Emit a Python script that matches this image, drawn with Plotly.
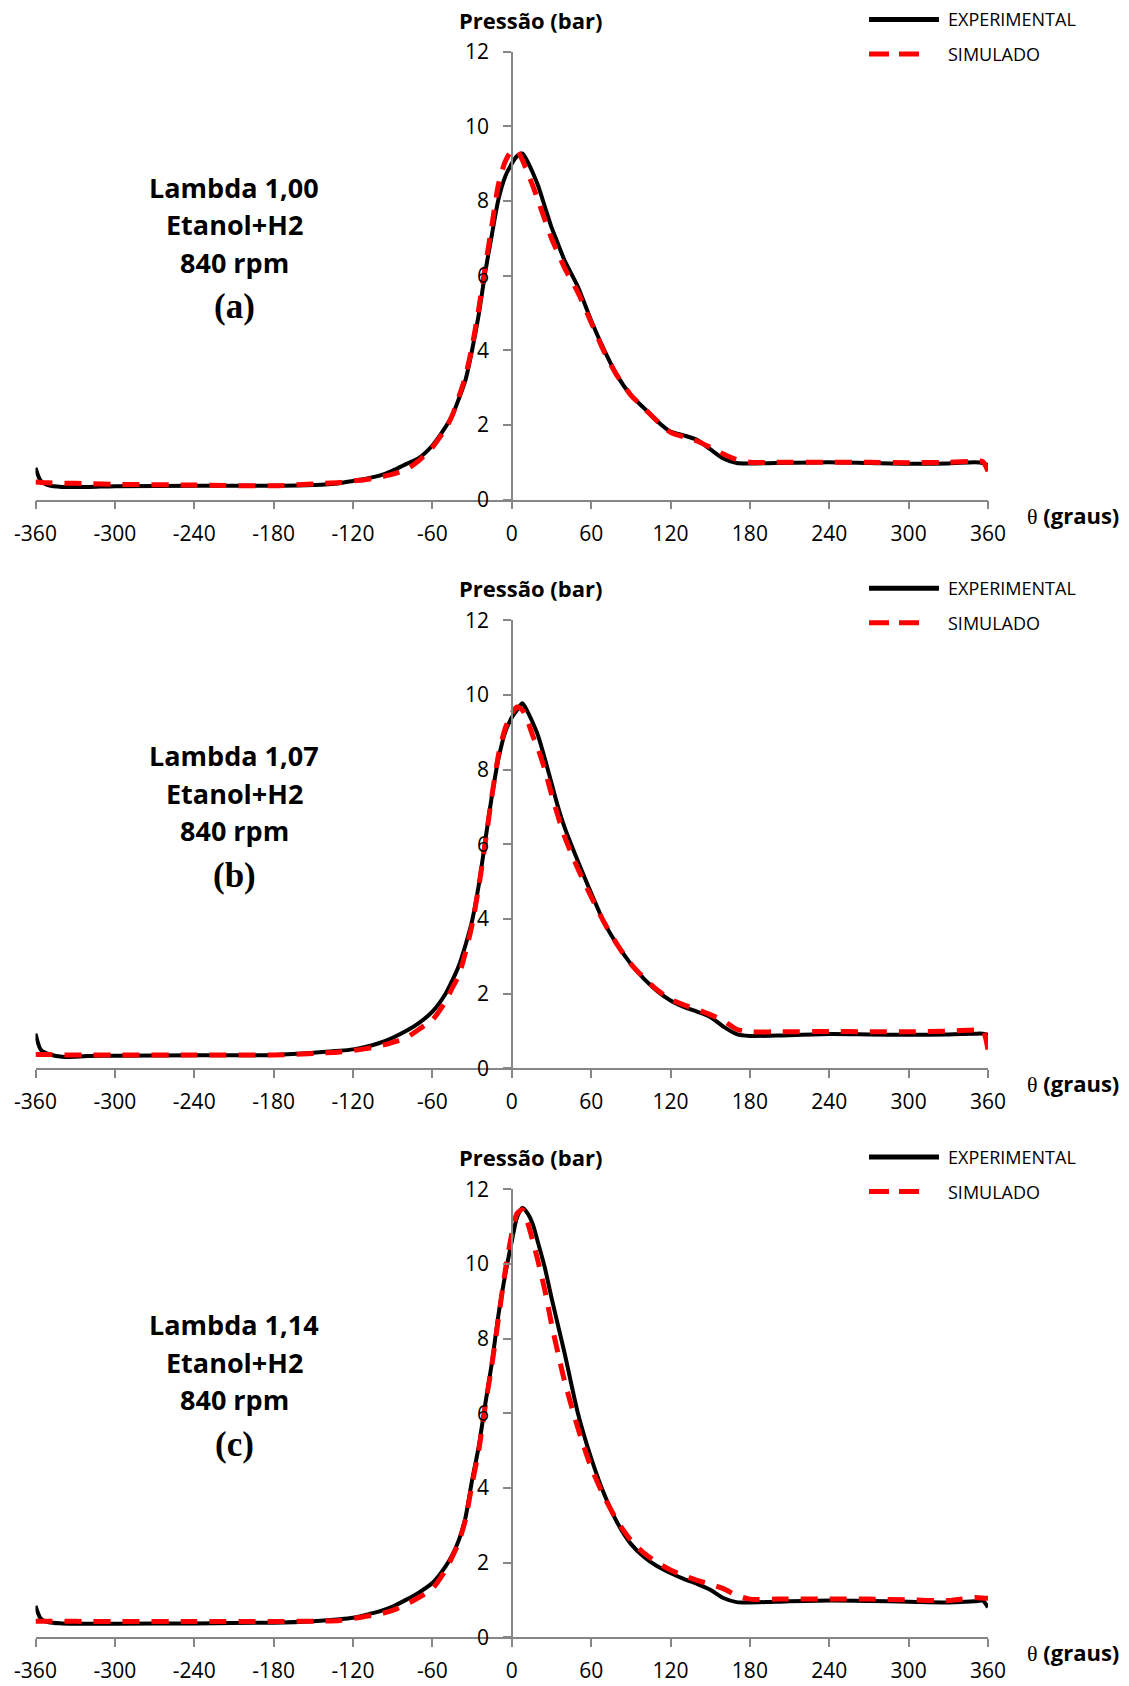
import plotly.graph_objects as go

# Crank angle grid (degrees) shared by all series
THETA = [-360, -356, -350, -340, -320, -300, -240, -180, -150, -130, -120, -110,
         -100, -90, -80, -70, -60, -50, -45, -40, -35, -30, -25, -20, -15, -10,
         -5, 0, 4, 8, 12, 16, 20, 25, 30, 35, 40, 50, 60, 70, 80, 90, 100, 110,
         120, 130, 140, 150, 160, 170, 180, 200, 240, 270, 300, 330, 350, 356, 360]

# Lambda 1,00 — cylinder pressure (bar)
EXP_A = [0.85, 0.50, 0.38, 0.34, 0.34, 0.36, 0.37, 0.37, 0.39, 0.44, 0.50, 0.56,
         0.64, 0.78, 0.95, 1.12, 1.45, 1.95, 2.25, 2.70, 3.20, 4.00, 4.95, 6.10,
         7.10, 8.05, 8.65, 9.00, 9.20, 9.27, 9.05, 8.75, 8.40, 7.85, 7.30, 6.85,
         6.40, 5.70, 4.80, 4.00, 3.30, 2.80, 2.45, 2.10, 1.82, 1.72, 1.60, 1.35,
         1.10, 0.98, 0.97, 0.98, 1.00, 0.98, 0.96, 0.97, 1.00, 0.98, 0.92]
SIM_A = [0.47, 0.46, 0.45, 0.44, 0.43, 0.41, 0.39, 0.37, 0.42, 0.46, 0.50, 0.54,
         0.60, 0.68, 0.80, 1.05, 1.40, 1.90, 2.25, 2.75, 3.30, 4.10, 5.10, 6.25,
         7.35, 8.45, 9.05, 9.35, 9.35, 9.10, 8.75, 8.40, 8.00, 7.50, 7.00, 6.60,
         6.20, 5.55, 4.75, 3.95, 3.30, 2.80, 2.45, 2.10, 1.80, 1.68, 1.57, 1.40,
         1.22, 1.07, 1.00, 1.00, 1.00, 1.00, 0.99, 1.00, 1.03, 1.02, 0.76]

# Lambda 1,07
EXP_B = [0.93, 0.50, 0.38, 0.31, 0.33, 0.34, 0.35, 0.36, 0.42, 0.47, 0.51, 0.58,
         0.68, 0.82, 1.00, 1.22, 1.52, 2.00, 2.35, 2.75, 3.30, 3.95, 4.90, 6.10,
         7.30, 8.30, 9.00, 9.40, 9.60, 9.78, 9.55, 9.25, 8.90, 8.30, 7.65, 7.00,
         6.45, 5.55, 4.70, 3.90, 3.30, 2.80, 2.40, 2.07, 1.82, 1.65, 1.52, 1.38,
         1.12, 0.92, 0.87, 0.88, 0.92, 0.91, 0.90, 0.91, 0.93, 0.93, 0.90]
SIM_B = [0.37, 0.37, 0.37, 0.36, 0.36, 0.36, 0.36, 0.36, 0.40, 0.44, 0.48, 0.53,
         0.60, 0.70, 0.82, 1.05, 1.30, 1.80, 2.15, 2.50, 3.10, 3.85, 4.85, 6.05,
         7.30, 8.40, 9.10, 9.50, 9.68, 9.60, 9.30, 8.90, 8.55, 8.00, 7.35, 6.75,
         6.20, 5.35, 4.60, 3.90, 3.30, 2.80, 2.42, 2.10, 1.85, 1.70, 1.58, 1.44,
         1.28, 1.05, 0.98, 0.98, 0.99, 0.98, 0.98, 1.00, 1.03, 1.02, 0.49]

# Lambda 1,14
EXP_C = [0.84, 0.50, 0.40, 0.37, 0.36, 0.36, 0.37, 0.39, 0.43, 0.48, 0.52, 0.60,
         0.69, 0.82, 1.00, 1.20, 1.45, 1.90, 2.20, 2.60, 3.20, 4.20, 5.10, 6.25,
         7.35, 8.65, 9.70, 10.60, 11.25, 11.50, 11.35, 11.05, 10.55, 9.90, 9.10,
         8.35, 7.60, 6.00, 4.80, 3.82, 3.05, 2.50, 2.15, 1.90, 1.72, 1.56, 1.43,
         1.27, 1.05, 0.94, 0.93, 0.95, 0.98, 0.97, 0.95, 0.93, 0.96, 0.98, 0.80]
SIM_C = [0.43, 0.43, 0.43, 0.43, 0.42, 0.42, 0.42, 0.42, 0.43, 0.45, 0.50, 0.56,
         0.62, 0.72, 0.88, 1.07, 1.30, 1.80, 2.15, 2.55, 3.15, 4.10, 5.00, 6.20,
         7.30, 8.55, 9.80, 10.80, 11.35, 11.45, 11.10, 10.60, 10.05, 9.30, 8.40,
         7.60, 6.85, 5.60, 4.55, 3.75, 3.10, 2.60, 2.25, 2.00, 1.80, 1.65, 1.52,
         1.42, 1.30, 1.12, 1.02, 1.02, 1.02, 1.02, 1.00, 0.98, 1.06, 1.05, 1.04]

PANELS = [
    ("Lambda 1,00", "(a)", EXP_A, SIM_A),
    ("Lambda 1,07", "(b)", EXP_B, SIM_B),
    ("Lambda 1,14", "(c)", EXP_C, SIM_C),
]
FUEL = "Etanol+H2"
SPEED = "840 rpm"
X_TICKS = list(range(-360, 361, 60))
X_TICK_TEXT = [str(v) for v in X_TICKS]  # plain hyphen for negatives
Y_TICKS = list(range(0, 13, 2))
LEGEND_NAMES = ["EXPERIMENTAL", "SIMULADO"]

W, H = 1129, 1686
AXIS_GREY = "#868686"
SANS = "Open Sans"
SERIF = "Liberation Serif"

# Pixel layout of each panel (top of y=12 and bottom y=0)
PLOT_LEFT, PLOT_RIGHT = 35.5, 988.0
Y_AXIS_X = 512.0
PANEL_TOPS = [51.6, 620.4, 1189.2]
PANEL_HEIGHT = 448.0

RED_DASH = "17px,12px"


def px(x):
    return x / W


def py(y):
    return 1 - y / H


fig = go.Figure()
annotations = []
shapes = []

for i, (title, tag, exp, sim) in enumerate(PANELS):
    n = "" if i == 0 else str(i + 1)
    xa, ya = "x" + n, "y" + n
    top = PANEL_TOPS[i]
    bottom = top + PANEL_HEIGHT

    fig.add_trace(go.Scatter(
        x=THETA, y=exp, xaxis=xa, yaxis=ya, mode="lines",
        line=dict(color="black", width=4, shape="spline", smoothing=0.7),
        showlegend=False, name=LEGEND_NAMES[0]))
    fig.add_trace(go.Scatter(
        x=THETA, y=sim, xaxis=xa, yaxis=ya, mode="lines",
        line=dict(color="#ff0000", width=5, dash=RED_DASH, shape="spline",
                  smoothing=0.7),
        showlegend=False, name=LEGEND_NAMES[1]))

    axis_common = dict(
        showline=True, linecolor=AXIS_GREY, linewidth=1.5,
        ticks="outside", ticklen=8, tickcolor=AXIS_GREY, tickwidth=1.5,
        showgrid=False, zeroline=False, automargin=False,
        tickfont=dict(family=SANS, size=21, color="black"),
    )
    fig.update_layout(**{
        "xaxis" + n: dict(
            axis_common, range=[-360, 360], tickvals=X_TICKS,
            ticktext=X_TICK_TEXT,
            domain=[px(PLOT_LEFT), px(PLOT_RIGHT)], anchor=ya,
            ticklabelstandoff=6),
        "yaxis" + n: dict(
            axis_common, range=[0, 12], tickvals=Y_TICKS,
            domain=[py(bottom), py(top)], anchor="free",
            position=px(Y_AXIS_X), ticklabelstandoff=10),
    })

    # Axis titles
    annotations.append(dict(
        x=px(530), y=py(top - 32), xref="paper", yref="paper",
        text="<b>Pressão (bar)</b>", showarrow=False,
        font=dict(family=SANS, size=22, color="black"),
        xanchor="center", yanchor="middle"))
    annotations.append(dict(
        x=px(1073), y=py(bottom + 15), xref="paper", yref="paper",
        text='<span style="font-family:Liberation Serif">θ</span> <b>(graus)</b>',
        showarrow=False, font=dict(family=SANS, size=22, color="black"),
        xanchor="center", yanchor="middle"))

    # Condition label block
    for dy, txt in [(135.4, title), (173.4, FUEL), (210.4, SPEED)]:
        annotations.append(dict(
            x=px(234), y=py(top + dy), xref="paper", yref="paper",
            text="<b>%s</b>" % txt, showarrow=False,
            font=dict(family=SANS, size=27, color="black"),
            xanchor="center", yanchor="middle"))
    annotations.append(dict(
        x=px(234), y=py(top + 255), xref="paper", yref="paper",
        text="<b>%s</b>" % tag, showarrow=False,
        font=dict(family=SERIF, size=35, color="black"),
        xanchor="center", yanchor="middle"))

    # Legend keys
    for k, (name, dy) in enumerate(zip(LEGEND_NAMES, [-32.2, 2.4])):
        ly = py(top + dy)
        if k == 0:
            shapes.append(dict(type="line", xref="paper", yref="paper",
                               x0=px(869), x1=px(939), y0=ly, y1=ly,
                               line=dict(color="black", width=5)))
        else:
            shapes.append(dict(type="line", xref="paper", yref="paper",
                               x0=px(869), x1=px(928), y0=ly, y1=ly,
                               line=dict(color="#ff0000", width=5,
                                         dash="20px,10px")))
        annotations.append(dict(
            x=px(946), y=ly, xref="paper", yref="paper", text=name,
            showarrow=False, font=dict(family=SANS, size=18, color="black"),
            xanchor="left", yanchor="middle"))

fig.update_layout(
    width=W, height=H,
    margin=dict(l=0, r=0, t=0, b=0, pad=0, autoexpand=False),
    paper_bgcolor="white", plot_bgcolor="white",
    annotations=annotations, shapes=shapes,
    showlegend=False,
)

fig.write_html("out.html")
